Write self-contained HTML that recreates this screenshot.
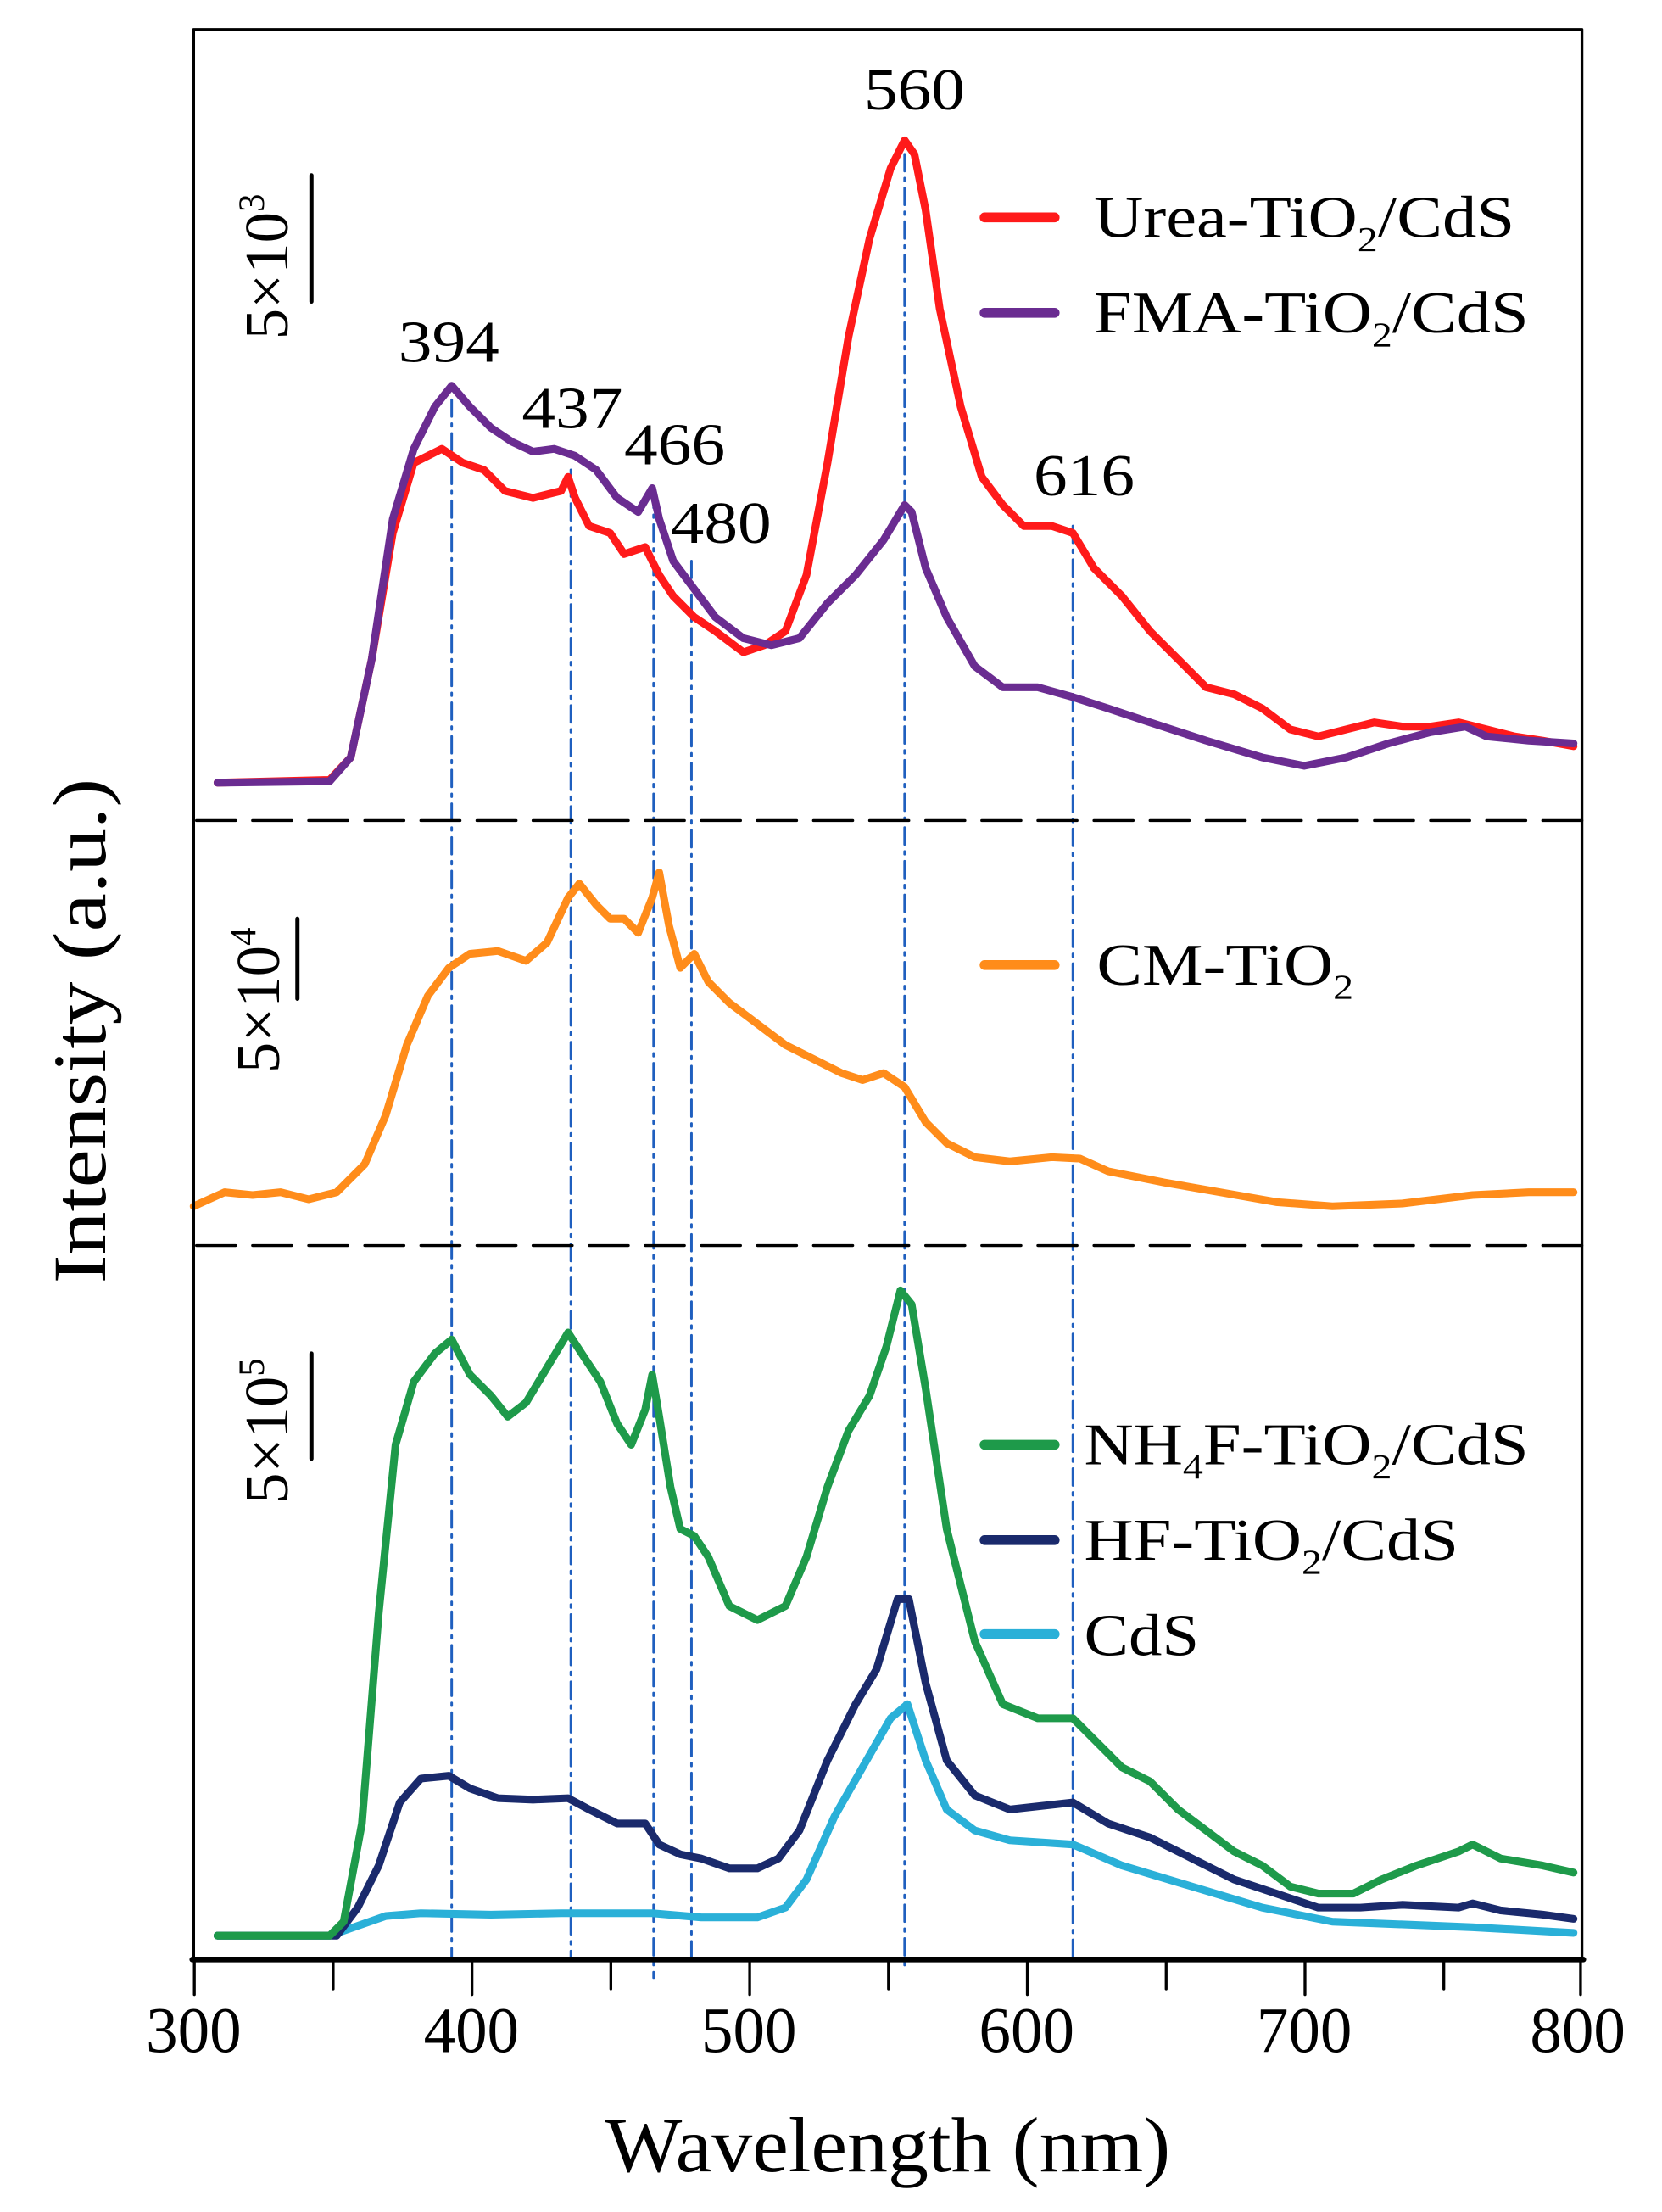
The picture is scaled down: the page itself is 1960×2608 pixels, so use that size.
<!DOCTYPE html>
<html><head><meta charset="utf-8"><style>html,body{margin:0;padding:0;background:#fff}svg{display:block}</style></head><body>
<svg xmlns="http://www.w3.org/2000/svg" width="1960" height="2608" viewBox="0 0 1185 1577" font-family="Liberation Serif, serif">
<rect x="0" y="0" width="1185" height="1577" fill="#fff"/>
<g fill="none" stroke-linejoin="round" stroke-linecap="round">
<g stroke="#1f5fbf" stroke-width="1.8" stroke-dasharray="12,5,2,5">
<line x1="322" y1="285" x2="322" y2="1397"/>
<line x1="407" y1="335" x2="407" y2="1397"/>
<line x1="466" y1="350" x2="466" y2="1410"/>
<line x1="493" y1="400" x2="493" y2="1397"/>
<line x1="645" y1="110" x2="645" y2="1405"/>
<line x1="765" y1="375" x2="765" y2="1397"/>
</g>
<g stroke-width="5.5">
<polyline stroke="#ff1a1a" points="155,558 235,556 250,540 265,470 280,380 295,330 315,320 330,330 345,335 360,350 380,355 400,350 405,340 410,355 420,375 435,380 445,395 460,390 470,410 480,425 495,440 510,450 530,465 545,460 560,450 575,410 590,330 605,240 620,170 635,120 645,100 652,110 660,150 670,220 685,290 700,340 715,360 730,375 750,375 765,380 780,405 800,425 820,450 840,470 860,490 880,495 900,505 920,520 940,525 960,520 980,515 1000,518 1020,518 1040,515 1060,520 1080,525 1100,528 1122,532"/>
<polyline stroke="#6a2c91" points="155,558 235,557 250,540 265,470 280,370 295,320 310,290 322,275 335,290 350,305 365,315 380,322 395,320 410,325 425,335 440,355 455,365 465,348 470,370 480,400 495,420 510,440 530,455 550,460 570,455 590,430 610,410 630,385 645,360 650,365 660,405 675,440 695,475 715,490 740,490 765,497 790,505 820,515 860,528 900,540 930,546 960,540 990,530 1020,522 1045,518 1060,525 1090,528 1122,530"/>
<polyline stroke="#ff8c1a" points="138,860 160,850 180,852 200,850 220,855 240,850 260,830 275,795 290,745 305,710 320,690 335,680 355,678 375,685 390,672 405,640 413,630 425,645 435,655 445,655 455,665 465,640 470,622 477,660 485,690 495,680 505,700 520,715 540,730 560,745 580,755 600,765 615,770 630,765 645,775 660,800 675,815 695,825 720,828 750,825 770,826 790,835 830,843 870,850 910,857 950,860 1000,858 1050,852 1090,850 1122,850"/>
<polyline stroke="#2ab0d8" points="155,1380 235,1380 255,1373 275,1366 300,1364 350,1365 400,1364 465,1364 500,1367 540,1367 560,1360 575,1340 595,1295 615,1260 635,1225 647,1215 660,1255 675,1290 695,1305 720,1312 765,1315 800,1330 850,1345 900,1360 950,1370 1000,1372 1050,1374 1122,1378"/>
<polyline stroke="#1a2a6c" points="155,1380 240,1380 255,1360 270,1330 285,1285 300,1268 320,1266 335,1275 355,1282 380,1283 405,1282 420,1290 440,1300 460,1300 470,1315 485,1322 500,1325 520,1332 540,1332 555,1325 570,1305 590,1255 610,1215 625,1190 640,1140 648,1140 660,1200 675,1255 695,1280 720,1290 765,1285 790,1300 820,1310 850,1325 880,1340 910,1350 940,1360 970,1360 1000,1358 1040,1360 1050,1357 1070,1362 1100,1365 1122,1368"/>
<polyline stroke="#1e9a4a" points="155,1380 235,1380 245,1370 258,1300 270,1150 282,1030 295,985 310,965 322,955 335,980 350,995 362,1010 375,1000 390,975 405,950 418,970 428,985 440,1015 450,1030 460,1005 465,980 470,1010 478,1060 485,1090 495,1095 505,1110 520,1145 540,1155 560,1145 575,1110 590,1060 605,1020 620,995 632,960 642,920 650,930 660,990 675,1090 695,1170 715,1215 740,1225 765,1225 780,1240 800,1260 820,1270 840,1290 860,1305 880,1320 900,1330 920,1345 940,1350 965,1350 985,1340 1010,1330 1040,1320 1050,1315 1070,1325 1100,1330 1122,1335"/>
</g>
<g stroke="#000" stroke-width="2" stroke-dasharray="28,12">
<line x1="140" y1="585" x2="1128" y2="585"/>
<line x1="140" y1="888" x2="1128" y2="888"/>
</g>
<rect x="138" y="21" width="990" height="1376" stroke="#000" stroke-width="2"/>
<line x1="137" y1="1397" x2="1129" y2="1397" stroke="#000" stroke-width="4"/>
<g stroke="#000" stroke-width="2">
<line x1="138.5" y1="1397" x2="138.5" y2="1422"/><line x1="237.5" y1="1397" x2="237.5" y2="1418"/>
<line x1="336.5" y1="1397" x2="336.5" y2="1422"/><line x1="435.5" y1="1397" x2="435.5" y2="1418"/>
<line x1="534.5" y1="1397" x2="534.5" y2="1422"/><line x1="633.5" y1="1397" x2="633.5" y2="1418"/>
<line x1="732.5" y1="1397" x2="732.5" y2="1422"/><line x1="831.5" y1="1397" x2="831.5" y2="1418"/>
<line x1="930.5" y1="1397" x2="930.5" y2="1422"/><line x1="1029.5" y1="1397" x2="1029.5" y2="1418"/>
<line x1="1127" y1="1397" x2="1127" y2="1422"/>
</g>
<g stroke="#000" stroke-width="3">
<line x1="222" y1="125" x2="222" y2="215"/>
<line x1="212" y1="655" x2="212" y2="712"/>
<line x1="222" y1="965" x2="222" y2="1040"/>
</g>
<g stroke-width="7">
<line x1="702" y1="155" x2="752" y2="155" stroke="#ff1a1a"/>
<line x1="702" y1="223" x2="752" y2="223" stroke="#6a2c91"/>
<line x1="702" y1="688" x2="752" y2="688" stroke="#ff8c1a"/>
<line x1="702" y1="1030" x2="752" y2="1030" stroke="#1e9a4a"/>
<line x1="702" y1="1098" x2="752" y2="1098" stroke="#1a2a6c"/>
<line x1="702" y1="1165" x2="752" y2="1165" stroke="#2ab0d8"/>
</g>
</g>
<g fill="#000">
<g font-size="46" text-anchor="middle">
<text x="138" y="1463" textLength="68" lengthAdjust="spacingAndGlyphs">300</text>
<text x="336" y="1463" textLength="68" lengthAdjust="spacingAndGlyphs">400</text>
<text x="534" y="1463" textLength="68" lengthAdjust="spacingAndGlyphs">500</text>
<text x="732" y="1463" textLength="68" lengthAdjust="spacingAndGlyphs">600</text>
<text x="930" y="1463" textLength="68" lengthAdjust="spacingAndGlyphs">700</text>
<text x="1125" y="1463" textLength="68" lengthAdjust="spacingAndGlyphs">800</text>
</g>
<text x="633" y="1548" font-size="56" text-anchor="middle" textLength="403" lengthAdjust="spacingAndGlyphs">Wavelength (nm)</text>
<text transform="translate(75,735) rotate(-90)" font-size="54" text-anchor="middle" textLength="360" lengthAdjust="spacingAndGlyphs">Intensity (a.u.)</text>
<g font-size="42" text-anchor="middle">
<text x="320" y="258" textLength="72" lengthAdjust="spacingAndGlyphs">394</text>
<text x="408" y="305" textLength="72" lengthAdjust="spacingAndGlyphs">437</text>
<text x="481" y="331" textLength="72" lengthAdjust="spacingAndGlyphs">466</text>
<text x="514" y="387" textLength="72" lengthAdjust="spacingAndGlyphs">480</text>
<text x="652" y="78" textLength="72" lengthAdjust="spacingAndGlyphs">560</text>
<text x="773" y="353" textLength="72" lengthAdjust="spacingAndGlyphs">616</text>
</g>
<g font-size="44">
<text transform="translate(205,242) rotate(-90)">5×10<tspan font-size="26" dy="-17">3</tspan></text>
<text transform="translate(199,765) rotate(-90)">5×10<tspan font-size="26" dy="-17">4</tspan></text>
<text transform="translate(205,1072) rotate(-90)">5×10<tspan font-size="26" dy="-17">5</tspan></text>
</g>
<g font-size="42">
<text x="780" y="169" textLength="300" lengthAdjust="spacingAndGlyphs">Urea-TiO<tspan font-size="25" dy="10">2</tspan><tspan dy="-10">/CdS</tspan></text>
<text x="780" y="237" textLength="310" lengthAdjust="spacingAndGlyphs">FMA-TiO<tspan font-size="25" dy="10">2</tspan><tspan dy="-10">/CdS</tspan></text>
<text x="782" y="702" textLength="183" lengthAdjust="spacingAndGlyphs">CM-TiO<tspan font-size="25" dy="10">2</tspan></text>
<text x="773" y="1044" textLength="317" lengthAdjust="spacingAndGlyphs">NH<tspan font-size="25" dy="10">4</tspan><tspan dy="-10">F-TiO</tspan><tspan font-size="25" dy="10">2</tspan><tspan dy="-10">/CdS</tspan></text>
<text x="773" y="1112" textLength="267" lengthAdjust="spacingAndGlyphs">HF-TiO<tspan font-size="25" dy="10">2</tspan><tspan dy="-10">/CdS</tspan></text>
<text x="773" y="1180" textLength="82" lengthAdjust="spacingAndGlyphs">CdS</text>
</g>
</g>
</svg>
</body></html>
